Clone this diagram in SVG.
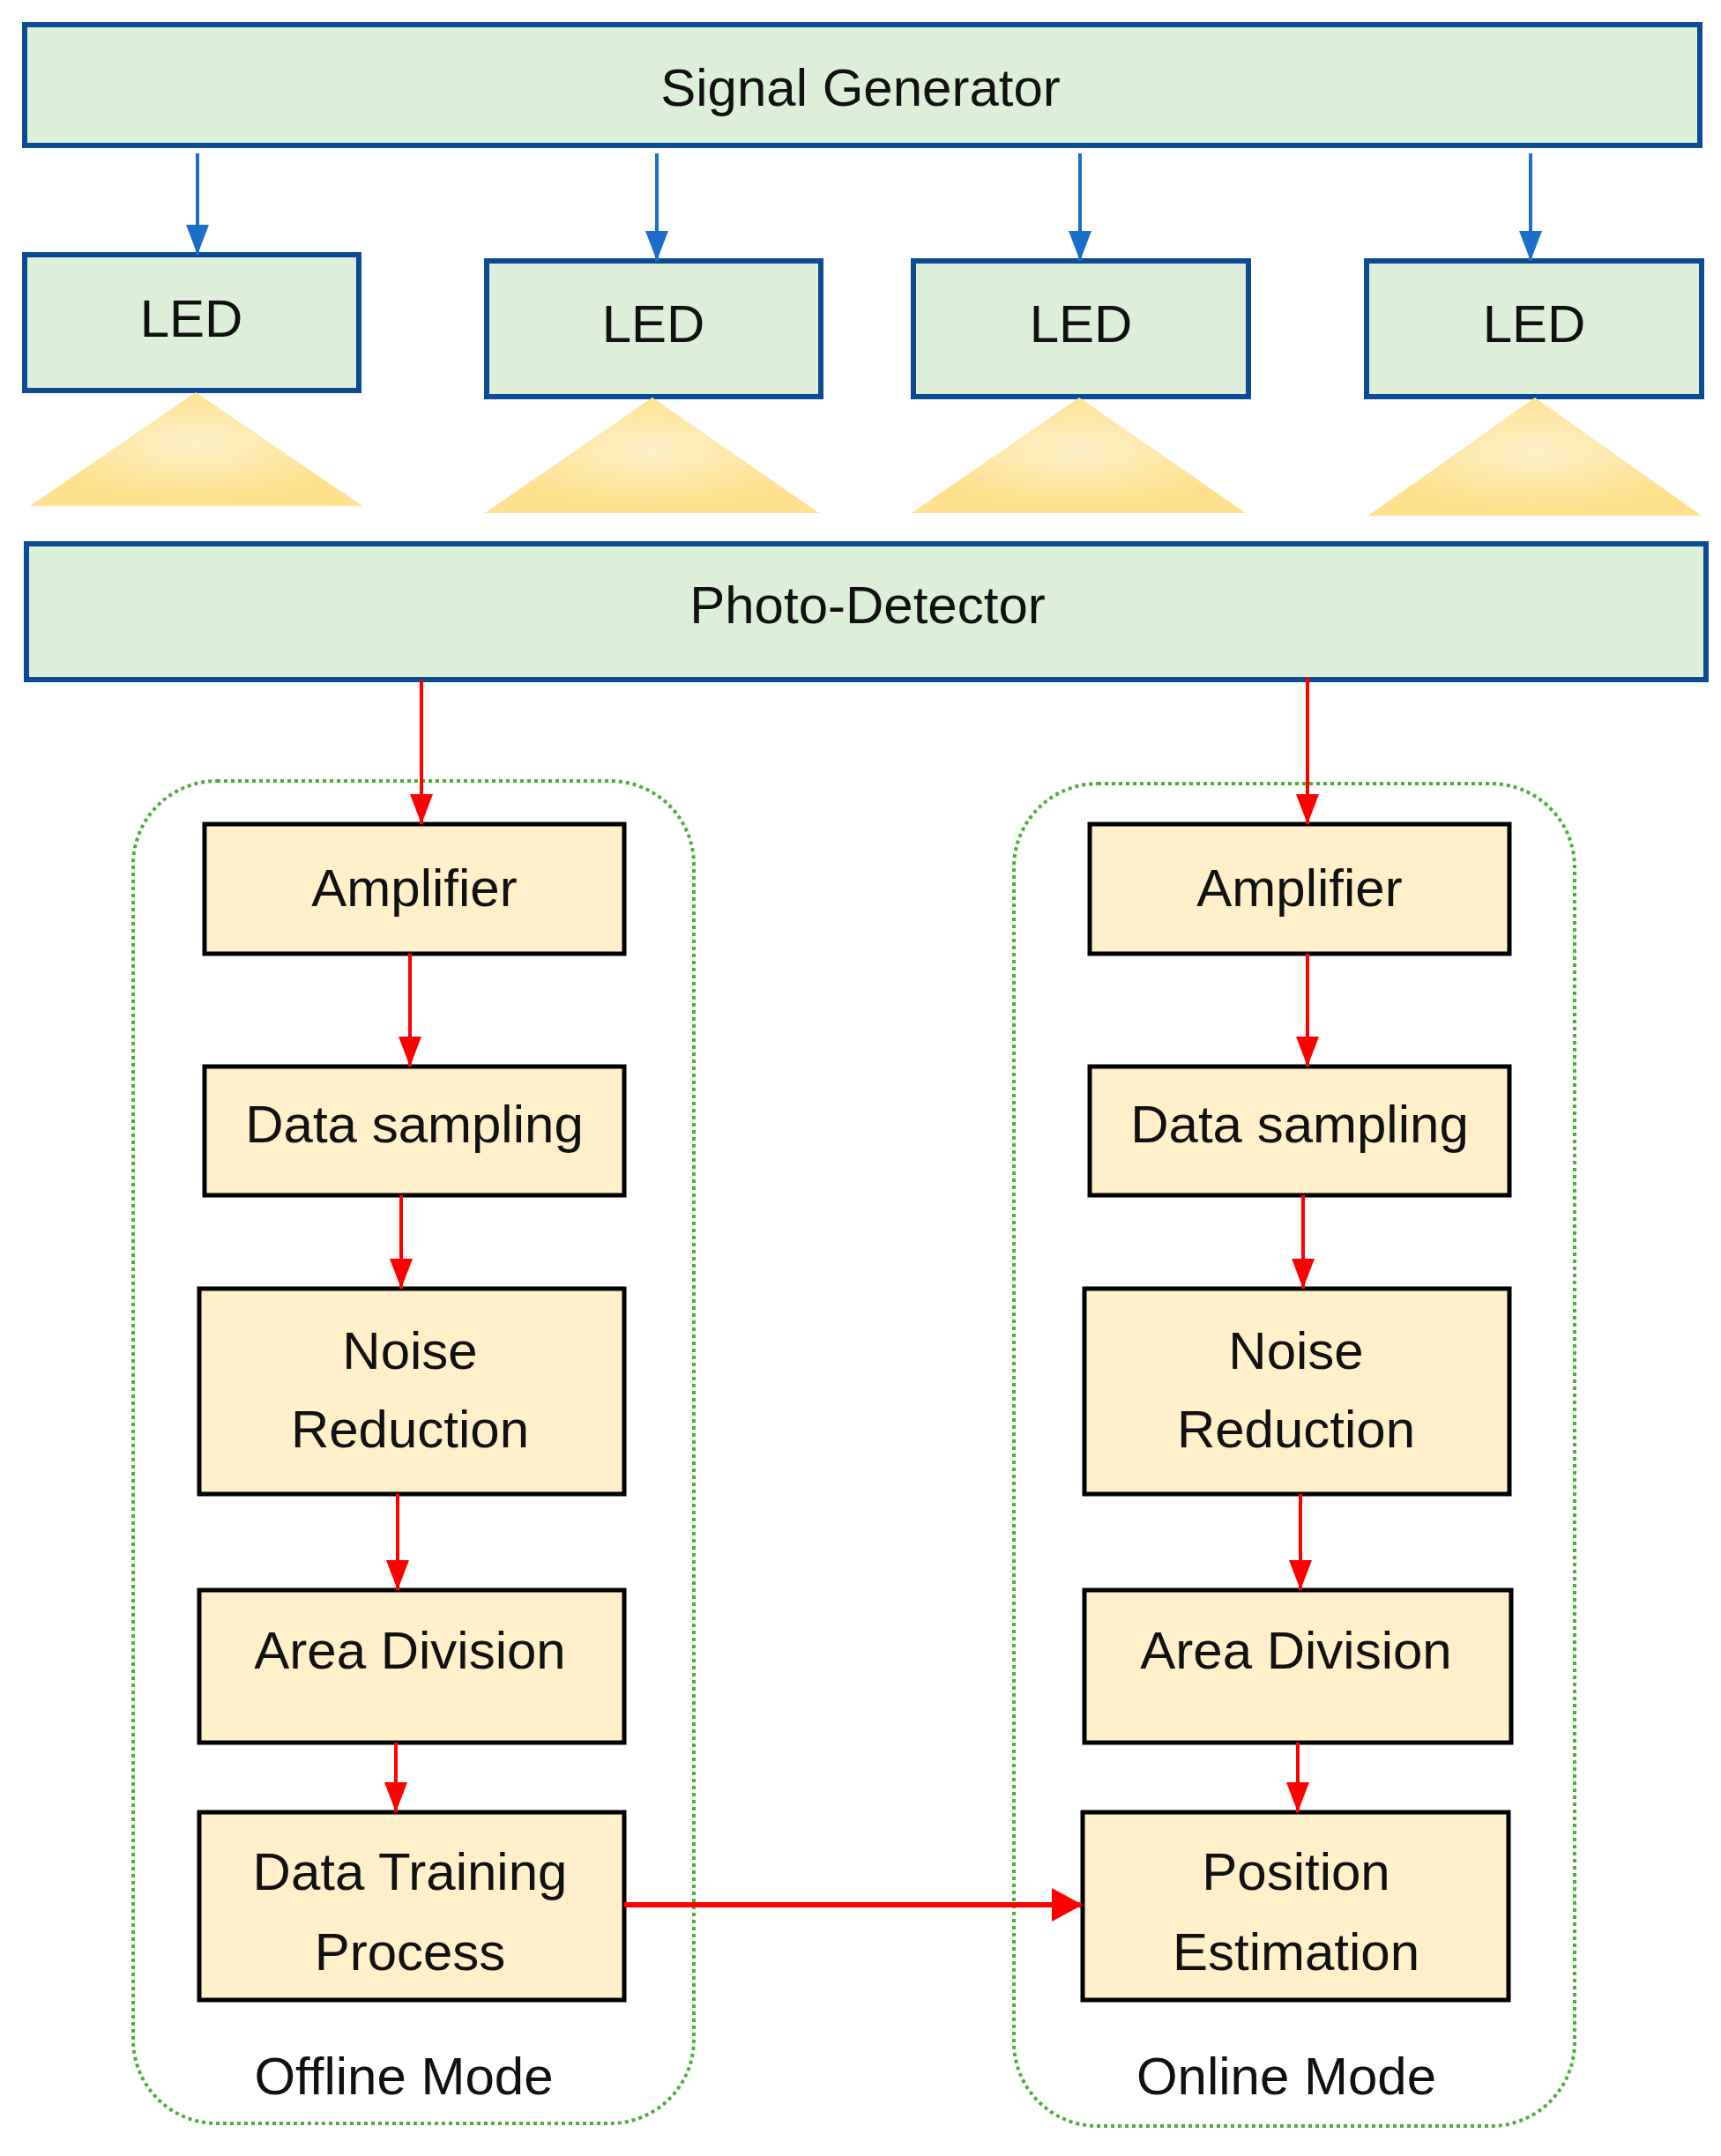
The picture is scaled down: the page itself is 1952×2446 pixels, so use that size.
<svg xmlns="http://www.w3.org/2000/svg" width="1952" height="2446" viewBox="0 0 1952 2446">
<style>
.g{fill:#DDEFD9;stroke:#0B4C93;stroke-width:6}
.y{fill:#FFF0C9;stroke:#000;stroke-width:5}
.t{font-family:"Liberation Sans",Arial,sans-serif;font-size:60px;fill:#111;text-anchor:middle}
.b{stroke:#1A6FCC;stroke-width:4;fill:none}
.r{stroke:#FF0000;stroke-width:4;fill:none}
.c{fill:none;stroke:#4CAF3C;stroke-width:4;stroke-dasharray:4 4}
</style>
<defs>
<marker id="ar" viewBox="0 0 10 10" refX="10" refY="5" markerWidth="34" markerHeight="26" orient="auto" markerUnits="userSpaceOnUse" preserveAspectRatio="none"><path d="M0,0 L10,5 L0,10 z" fill="#FF0000"/></marker>
<marker id="ab2" viewBox="0 0 10 10" refX="10" refY="5" markerWidth="34" markerHeight="26" orient="auto" markerUnits="userSpaceOnUse" preserveAspectRatio="none"><path d="M0,0 L10,5 L0,10 z" fill="#1A6FCC"/></marker>
<radialGradient id="lg" cx="0.5" cy="0.45" r="0.5"><stop offset="0" stop-color="#FEF1C8"/><stop offset="1" stop-color="#FFE08C"/></radialGradient>
</defs>
<rect class="c" x="151" y="886" width="636" height="1523" rx="95"/>
<rect class="c" x="1150" y="889" width="636" height="1523" rx="95"/>
<g id="sg"><rect class="g" x="28" y="28" width="1900" height="137"/><text class="t" x="976" y="120">Signal Generator</text></g>
<g id="led1"><rect class="g" x="28" y="289" width="379" height="154"/><text class="t" x="217" y="382">LED</text></g>
<g id="led2"><rect class="g" x="552" y="296" width="379" height="154"/><text class="t" x="741" y="388">LED</text></g>
<g id="led3"><rect class="g" x="1036" y="296" width="380" height="154"/><text class="t" x="1226" y="388">LED</text></g>
<g id="led4"><rect class="g" x="1550" y="296" width="380" height="154"/><text class="t" x="1740" y="388">LED</text></g>
<g id="lights" fill="url(#lg)">
<polygon points="222,445 411,574 34,574"/>
<polygon points="740,451 929,582 550,582"/>
<polygon points="1224,451 1413,582 1034,582"/>
<polygon points="1741,451 1930,585 1552,585"/>
</g>
<g id="pd"><rect class="g" x="30" y="617" width="1905" height="154"/><text class="t" x="984" y="707">Photo-Detector</text></g>
<g id="oa"><rect class="y" x="232" y="935" width="476" height="147"/><text class="t" x="470" y="1028">Amplifier</text></g>
<g id="ods"><rect class="y" x="232" y="1210" width="476" height="146"/><text class="t" x="470" y="1296">Data sampling</text></g>
<g id="onr"><rect class="y" x="226" y="1462" width="482" height="233"/><text class="t" x="465" y="1553">Noise</text><text class="t" x="465" y="1642">Reduction</text></g>
<g id="oad"><rect class="y" x="226" y="1804" width="482" height="173"/><text class="t" x="465" y="1893">Area Division</text></g>
<g id="odt"><rect class="y" x="226" y="2056" width="482" height="213"/><text class="t" x="465" y="2144">Data Training</text><text class="t" x="465" y="2235">Process</text></g>
<g id="na"><rect class="y" x="1236" y="935" width="476" height="147"/><text class="t" x="1474" y="1028">Amplifier</text></g>
<g id="nds"><rect class="y" x="1236" y="1210" width="476" height="146"/><text class="t" x="1474" y="1296">Data sampling</text></g>
<g id="nnr"><rect class="y" x="1230" y="1462" width="482" height="233"/><text class="t" x="1470" y="1553">Noise</text><text class="t" x="1470" y="1642">Reduction</text></g>
<g id="nad"><rect class="y" x="1230" y="1804" width="484" height="173"/><text class="t" x="1470" y="1893">Area Division</text></g>
<g id="npe"><rect class="y" x="1228" y="2056" width="483" height="213"/><text class="t" x="1470" y="2144">Position</text><text class="t" x="1470" y="2235">Estimation</text></g>
<text class="t" x="458" y="2376">Offline Mode</text>
<text class="t" x="1459" y="2376">Online Mode</text>
<g id="connectors">
<line class="b" x1="224" y1="174" x2="224" y2="289" marker-end="url(#ab2)"/>
<line class="b" x1="745" y1="174" x2="745" y2="296" marker-end="url(#ab2)"/>
<line class="b" x1="1225" y1="174" x2="1225" y2="296" marker-end="url(#ab2)"/>
<line class="b" x1="1736" y1="174" x2="1736" y2="296" marker-end="url(#ab2)"/>
<line class="r" x1="478" y1="771" x2="478" y2="935" marker-end="url(#ar)"/>
<line class="r" x1="465" y1="1082" x2="465" y2="1210" marker-end="url(#ar)"/>
<line class="r" x1="455" y1="1356" x2="455" y2="1462" marker-end="url(#ar)"/>
<line class="r" x1="451" y1="1695" x2="451" y2="1804" marker-end="url(#ar)"/>
<line class="r" x1="449" y1="1977" x2="449" y2="2056" marker-end="url(#ar)"/>
<line class="r" x1="1483" y1="768" x2="1483" y2="935" marker-end="url(#ar)"/>
<line class="r" x1="1483" y1="1082" x2="1483" y2="1210" marker-end="url(#ar)"/>
<line class="r" x1="1478" y1="1356" x2="1478" y2="1462" marker-end="url(#ar)"/>
<line class="r" x1="1475" y1="1695" x2="1475" y2="1804" marker-end="url(#ar)"/>
<line class="r" x1="1472" y1="1977" x2="1472" y2="2056" marker-end="url(#ar)"/>
<line x1="708" y1="2161" x2="1226" y2="2161" stroke="#FF0000" stroke-width="6"/>
<polygon points="1193,2142 1228,2161 1193,2180" fill="#FF0000"/>
</g>
</svg>
